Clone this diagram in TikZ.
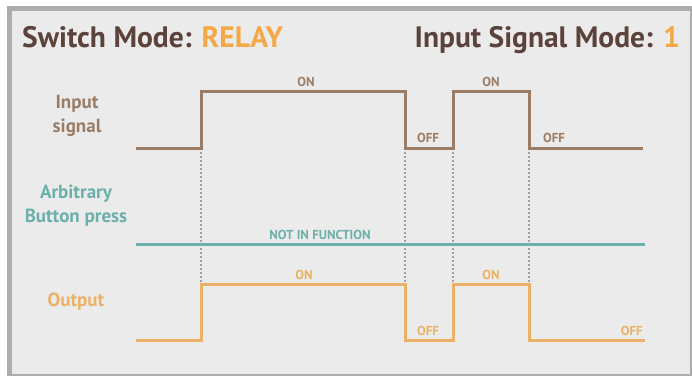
\documentclass[tikz,border=0pt]{standalone}
\usepackage{fontspec}
\setmainfont{PT Sans}
\definecolor{bgc}{HTML}{EBEBEB}
\definecolor{framec}{HTML}{ADADAD}
\definecolor{titlec}{HTML}{5B423A}
\definecolor{relayc}{HTML}{F5A846}
\definecolor{inc}{HTML}{9B7D66}
\definecolor{btnc}{HTML}{6CB0AA}
\definecolor{outc}{HTML}{EBB267}
\definecolor{dotc}{HTML}{A0A0A0}
\begin{document}
\begin{tikzpicture}[x=1pt,y=-1pt,
  title/.style={font=\bfseries\fontsize{29.5}{32}\selectfont, text=titlec, inner sep=0pt},
  rowlabel/.style={font=\bfseries\fontsize{19}{24}\selectfont, align=center, inner sep=0pt},
  tag/.style={font=\bfseries\fontsize{13}{14}\selectfont, inner sep=0pt},
  wave/.style={line width=3pt},
  guide/.style={dotc, line width=1.3pt, dash pattern=on 2pt off 2pt}]
\useasboundingbox (0,0) rectangle (692,376);
\fill[white] (0,0) rectangle (692,376);
\fill[framec] (7,6) rectangle (692,376);
\fill[bgc] (12,11) rectangle (690,374);
% title
\node[title, anchor=base west] (t1) at (22,47) {Switch Mode: \textcolor{relayc}{RELAY}};
\node[title, anchor=base east] (t2) at (680,47) {Input Signal Mode: \textcolor{relayc}{1}};
% row labels
\node[rowlabel, text=inc] (l1) at (77,116) {Input\\signal};
\node[rowlabel, text=btnc] (l2) at (76,206) {Arbitrary\\Button press};
\node[rowlabel, text=outc] (l3) at (76,302) {Output};
% coordinates
\foreach \n/\x in {a/201,b/405,c/453,d/529}{
  \coordinate (i\n) at (\x,148);
  \coordinate (o\n) at (\x,284);
}
% guides
\foreach \n in {a,b,c,d}{ \draw[guide] (i\n) -- (o\n); }
% input signal
\coordinate (is) at (136,148);
\coordinate (ie) at (643,148);
\draw[wave, inc] (is) -- (ia) -- (201,91) -- (405,91) -- (ib) -- (ic) -- (453,91) -- (529,91) -- (id) -- (ie);
% button
\coordinate (bs) at (136,244);
\coordinate (be) at (645,244);
\draw[wave, btnc] (bs) -- (be);
% output
\coordinate (os) at (136,340);
\coordinate (oe) at (645,340);
\draw[wave, outc] (os) -- (201,340) -- (oa) -- (ob) -- (405,340) -- (453,340) -- (oc) -- (od) -- (529,340) -- (oe);
% tags
\node[tag, text=inc, anchor=base] (n1) at (306,86) {ON};
\node[tag, text=inc, anchor=base] (n2) at (428,142) {OFF};
\node[tag, text=inc, anchor=base] (n3) at (491,86) {ON};
\node[tag, text=inc, anchor=base] (n4) at (554,142) {OFF};
\node[tag, text=btnc, anchor=base] (n5) at (320,239) {NOT IN FUNCTION};
\node[tag, text=outc, anchor=base] (n6) at (304,279) {ON};
\node[tag, text=outc, anchor=base] (n7) at (428,335) {OFF};
\node[tag, text=outc, anchor=base] (n8) at (491,279) {ON};
\node[tag, text=outc, anchor=base east] (n9) at (643,335) {OFF};
\end{tikzpicture}
\end{document}
